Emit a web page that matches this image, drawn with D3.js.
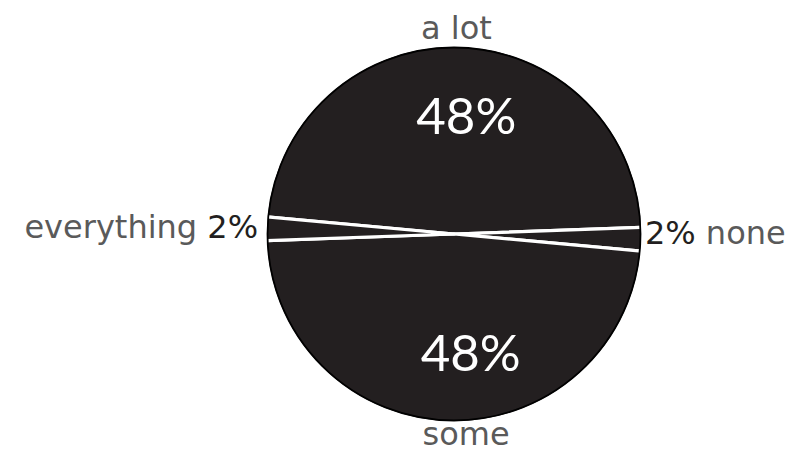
<!DOCTYPE html>
<html><head><meta charset="utf-8">
<script src="https://cdn.jsdelivr.net/npm/d3@7"></script>
<style>body{margin:0;background:#fff}svg{display:block}</style>
</head><body>
<svg id="c" width="812" height="453"></svg>
<script>
const categories = ["a lot", "none", "some", "everything"];
const values = [48, 2, 48, 2];
const pctLabels = ["48%", "2%", "48%", "2%"];

const cx = 454, cy = 234, R = 187;
const start = -84.8 * Math.PI / 180;
const data = categories.map((c, i) => ({cat: c, v: values[i], lab: pctLabels[i]}));

const svg = d3.select("#c");
svg.append("defs").append("clipPath").attr("id", "clip").append("circle").attr("r", R);

const g = svg.append("g").attr("transform", `translate(${cx},${cy})`);
const pie = d3.pie().value(d => d.v).sort(null).startAngle(start).endAngle(start + 2 * Math.PI);
const arcs = pie(data);
const arc = d3.arc().innerRadius(0).outerRadius(R + 4);

g.append("g").attr("clip-path", "url(#clip)")
  .selectAll("path.s").data(arcs).join("path").attr("class", "s")
  .attr("d", arc).attr("fill", "#231f20")
  .attr("stroke", "#fff").attr("stroke-width", 3.2).attr("stroke-linejoin", "round");
g.append("circle").attr("r", R - 0.5).attr("fill", "none").attr("stroke", "#000").attr("stroke-width", 1.8);

const labFont = "'DejaVu Sans', sans-serif";
const bigFont = "Lato, sans-serif";
const gray = "#5a5a5a", dark = "#231f20";
const isTop = d => (d.startAngle + d.endAngle) / 2 < Math.PI / 2;

const big = arcs.filter(a => a.data.v > 10);
const inner = d3.arc().innerRadius(R * 0.63).outerRadius(R * 0.63);
const bigShift = d => isTop(d) ? [9, -2] : [20, 0];
g.selectAll("text.big").data(big).join("text").attr("class", "big")
  .attr("x", d => inner.centroid(d)[0] + bigShift(d)[0])
  .attr("y", d => inner.centroid(d)[1] + bigShift(d)[1])
  .attr("text-anchor", "middle").attr("dominant-baseline", "central")
  .attr("fill", "#fff").attr("font-family", bigFont).attr("font-size", 51)
  .text(d => d.data.lab);

// category labels for large slices
const catArc = d => { const r = isTop(d) ? R + 8 : R + 24; return d3.arc().innerRadius(r).outerRadius(r).centroid(d); };
const catShift = d => isTop(d) ? -3 : 18;
g.selectAll("text.cat").data(big).join("text").attr("class", "cat")
  .attr("x", d => catArc(d)[0] + catShift(d))
  .attr("y", d => catArc(d)[1])
  .attr("text-anchor", "middle")
  .attr("fill", gray).attr("font-family", labFont).attr("font-size", 32)
  .text(d => d.data.cat);

// side labels for small slices
const side = d3.arc().innerRadius(R + 5).outerRadius(R + 5);
arcs.filter(a => a.data.v <= 10).forEach(d => {
  const [x, y] = side.centroid(d);
  const right = x > 0;
  const t = g.append("text").attr("x", x + (right ? -1 : -4)).attr("y", y + (right ? 5 : 9))
    .attr("text-anchor", right ? "start" : "end")
    .attr("font-family", labFont).attr("font-size", 32);
  if (right) {
    t.append("tspan").attr("fill", dark).text(d.data.lab + " ");
    t.append("tspan").attr("fill", gray).text(d.data.cat);
  } else {
    t.append("tspan").attr("fill", gray).text(d.data.cat + " ");
    t.append("tspan").attr("fill", dark).text(d.data.lab);
  }
});
</script>
</body></html>
